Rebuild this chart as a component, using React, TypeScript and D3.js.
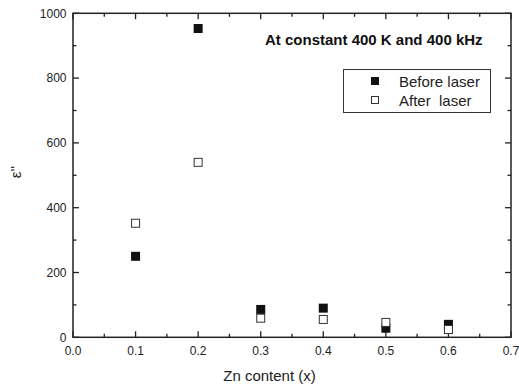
import React from "react";
import * as d3 from "d3";

const zn = [0.1, 0.2, 0.3, 0.4, 0.5, 0.6];
const beforeLaser = [250, 953, 86, 90, 28, 40];
const afterLaser = [352, 540, 59, 55, 46, 24];
const xTicks = [0, 0.1, 0.2, 0.3, 0.4, 0.5, 0.6, 0.7];
const yTicks = [0, 200, 400, 600, 800, 1000];
const xMinor = [0.05, 0.15, 0.25, 0.35, 0.45, 0.55, 0.65];
const yMinor = [100, 300, 500, 700, 900];

const W = 519, H = 387;
const L = 73, R = 511, T = 13.3, B = 337.3;
const FONT = "'Liberation Sans', Arial, Helvetica, sans-serif";

export default function App() {
  const x = d3.scaleLinear().domain([0, 0.7]).range([L, R]);
  const y = d3.scaleLinear().domain([0, 1000]).range([B, T]);
  const sq = 9;
  const axisColor = "#222";
  return (
    <svg width={W} height={H} style={{ position: "absolute", left: 0, top: 0, background: "#fff" }} fontFamily={FONT}>
      <rect x={0} y={0} width={W} height={H} fill="#fff" />
      {/* ticks */}
      {xTicks.map((t) => (
        <g key={"xt" + t}>
          <line x1={x(t)} x2={x(t)} y1={B} y2={B - 6} stroke={axisColor} strokeWidth={1.3} />
          <line x1={x(t)} x2={x(t)} y1={T} y2={T + 6} stroke={axisColor} strokeWidth={1.3} />
          <text x={x(t)} y={355} textAnchor="middle" fontSize={12} fill="#222">{t.toFixed(1)}</text>
        </g>
      ))}
      {xMinor.map((t) => (
        <g key={"xm" + t}>
          <line x1={x(t)} x2={x(t)} y1={B} y2={B - 3.5} stroke={axisColor} strokeWidth={1.3} />
          <line x1={x(t)} x2={x(t)} y1={T} y2={T + 3.5} stroke={axisColor} strokeWidth={1.3} />
        </g>
      ))}
      {yTicks.map((t) => (
        <g key={"yt" + t}>
          <line x1={L} x2={L + 6} y1={y(t)} y2={y(t)} stroke={axisColor} strokeWidth={1.3} />
          <line x1={R} x2={R - 6} y1={y(t)} y2={y(t)} stroke={axisColor} strokeWidth={1.3} />
          <text x={L - 6.5} y={y(t)} dy="0.35em" textAnchor="end" fontSize={12} fill="#222">{t}</text>
        </g>
      ))}
      {yMinor.map((t) => (
        <g key={"ym" + t}>
          <line x1={L} x2={L + 3.5} y1={y(t)} y2={y(t)} stroke={axisColor} strokeWidth={1.3} />
          <line x1={R} x2={R - 3.5} y1={y(t)} y2={y(t)} stroke={axisColor} strokeWidth={1.3} />
        </g>
      ))}
      <rect x={L} y={T} width={R - L} height={B - T} fill="none" stroke={axisColor} strokeWidth={1.5} />
      {/* data */}
      {zn.map((v, i) => (
        <rect key={"b" + i} x={x(v) - sq / 2} y={y(beforeLaser[i]) - sq / 2} width={sq} height={sq} fill="#111" />
      ))}
      {zn.map((v, i) => (
        <rect key={"a" + i} x={x(v) - sq / 2 + 0.5} y={y(afterLaser[i]) - sq / 2 + 0.5} width={sq - 1} height={sq - 1} fill="#fff" stroke="#333" strokeWidth={1} />
      ))}
      {/* annotation */}
      <text x={265} y={45} fontSize={15} fontWeight="bold" fill="#111">At constant 400 K and 400 kHz</text>
      {/* legend */}
      <rect x={343.5} y={69.5} width={147} height={43} fill="#fff" stroke="#333" strokeWidth={1} />
      <rect x={371} y={77} width={8} height={8} fill="#111" />
      <text x={399} y={86.5} fontSize={15} fill="#222">Before laser</text>
      <rect x={371.5} y={96.5} width={7} height={7} fill="#fff" stroke="#333" strokeWidth={1} />
      <text x={399} y={106} fontSize={15} fill="#222" style={{ whiteSpace: "pre" }}>{"After  laser"}</text>
      {/* axis titles */}
      <text x={(L + R) / 2 - 22.5} y={381} textAnchor="middle" fontSize={15} fill="#222">Zn content (x)</text>
      <text transform="translate(20.5,172) rotate(-90)" textAnchor="middle" fontSize={15} fill="#222">{"ε''"}</text>
    </svg>
  );
}
